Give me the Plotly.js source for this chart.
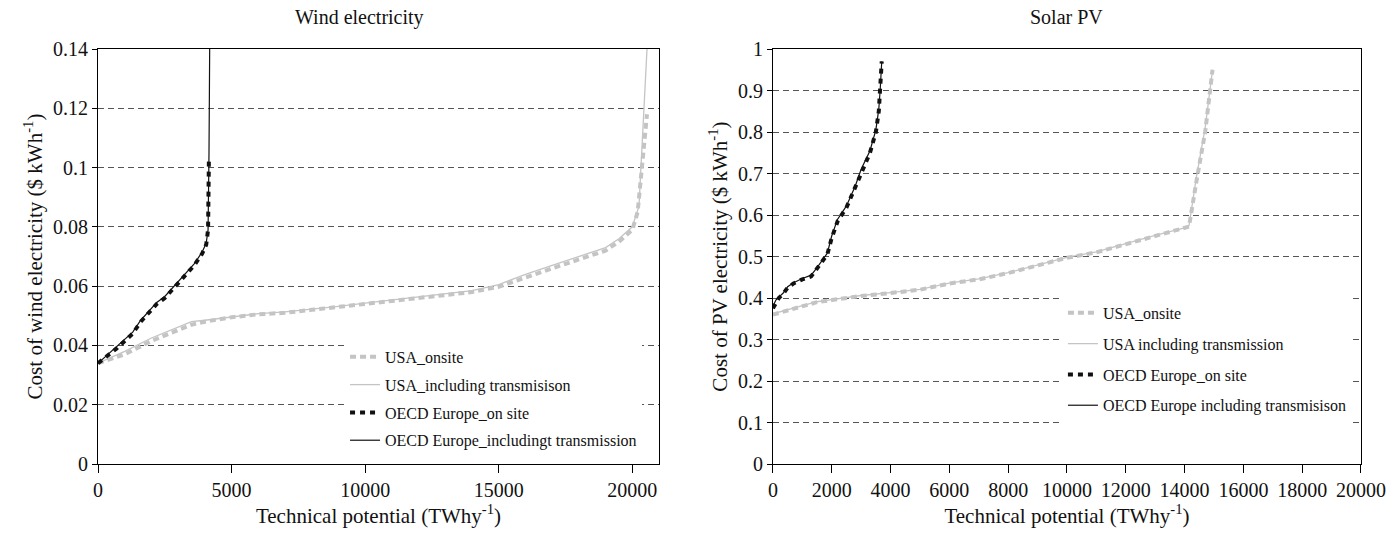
<!DOCTYPE html>
<html>
<head>
<meta charset="utf-8">
<script src="https://cdn.plot.ly/plotly-3.0.1.min.js"></script>
<style>html,body{margin:0;padding:0;background:#fff;}#chart{width:1389px;height:535px;}</style>
</head>
<body>
<div id="chart"></div>
<script>
// ---- Wind electricity (left panel) ----
const windUsaOnsiteX = [0, 500, 1000, 2000, 3000, 3500, 4000, 5000, 6000, 7000, 8000, 9000, 10000, 11000, 12000, 13000, 14000, 15000, 16000, 17000, 18000, 19000, 19500, 20000, 20200, 20300, 20450, 20550];
const windUsaOnsiteY = [0.034, 0.0355, 0.037, 0.0415, 0.045, 0.047, 0.048, 0.0495, 0.0505, 0.051, 0.052, 0.053, 0.054, 0.055, 0.056, 0.057, 0.058, 0.0598, 0.063, 0.066, 0.069, 0.072, 0.075, 0.079, 0.085, 0.095, 0.108, 0.118];
const windUsaTransX = [0, 500, 1000, 2000, 3000, 3500, 4000, 5000, 6000, 7000, 8000, 9000, 10000, 11000, 12000, 13000, 14000, 15000, 16000, 17000, 18000, 19000, 19500, 20000, 20250, 20350, 20450, 20550];
const windUsaTransY = [0.034, 0.036, 0.038, 0.0425, 0.046, 0.048, 0.0485, 0.0497, 0.0507, 0.0513, 0.0522, 0.0532, 0.0543, 0.0553, 0.0563, 0.0573, 0.0585, 0.0605, 0.064, 0.067, 0.070, 0.073, 0.076, 0.080, 0.087, 0.105, 0.125, 0.140];
const windEurOnsiteX = [0, 300, 700, 1000, 1300, 1600, 1900, 2200, 2500, 2700, 3000, 3300, 3600, 3900, 4050, 4120, 4140, 4150];
const windEurOnsiteY = [0.034, 0.036, 0.039, 0.0415, 0.044, 0.048, 0.051, 0.054, 0.056, 0.058, 0.061, 0.064, 0.067, 0.071, 0.074, 0.079, 0.090, 0.102];
const windEurTransX = [0, 300, 700, 1000, 1300, 1600, 1900, 2200, 2500, 2700, 3000, 3300, 3600, 3900, 4050, 4120, 4140, 4155, 4170, 4180];
const windEurTransY = [0.034, 0.0365, 0.0395, 0.042, 0.0445, 0.0485, 0.0515, 0.0545, 0.0565, 0.0585, 0.0615, 0.0645, 0.0675, 0.0715, 0.0745, 0.079, 0.090, 0.105, 0.125, 0.140];

// ---- Solar PV (right panel) ----
const pvUsaOnsiteX = [0, 500, 1000, 1500, 2000, 3000, 4000, 5000, 6000, 7000, 8000, 9000, 10000, 11000, 12000, 13000, 14000, 14150, 14400, 14700, 14950];
const pvUsaOnsiteY = [0.36, 0.37, 0.38, 0.39, 0.395, 0.405, 0.412, 0.42, 0.435, 0.445, 0.46, 0.478, 0.497, 0.51, 0.53, 0.55, 0.568, 0.572, 0.68, 0.80, 0.95];
const pvUsaTransX = [0, 500, 1000, 1500, 2000, 3000, 4000, 5000, 6000, 7000, 8000, 9000, 10000, 11000, 12000, 13000, 14000, 14150, 14400, 14700, 14950];
const pvUsaTransY = [0.362, 0.372, 0.382, 0.391, 0.396, 0.406, 0.413, 0.421, 0.436, 0.446, 0.461, 0.479, 0.498, 0.511, 0.531, 0.551, 0.569, 0.574, 0.69, 0.81, 0.95];
const pvEurOnsiteX = [0, 100, 200, 350, 500, 700, 1000, 1300, 1500, 1700, 1850, 2000, 2200, 2500, 2800, 3000, 3300, 3500, 3600, 3650, 3700];
const pvEurOnsiteY = [0.375, 0.39, 0.40, 0.41, 0.425, 0.435, 0.445, 0.452, 0.47, 0.49, 0.505, 0.545, 0.585, 0.618, 0.665, 0.70, 0.75, 0.80, 0.85, 0.90, 0.97];
const pvEurTransX = [0, 100, 200, 350, 500, 700, 1000, 1300, 1500, 1700, 1850, 2000, 2200, 2500, 2800, 3000, 3300, 3500, 3600, 3650, 3700];
const pvEurTransY = [0.38, 0.395, 0.402, 0.412, 0.427, 0.437, 0.447, 0.455, 0.473, 0.493, 0.508, 0.55, 0.59, 0.622, 0.67, 0.71, 0.755, 0.805, 0.855, 0.905, 0.97];

const windNames = ['USA_onsite', 'USA_including transmisison', 'OECD Europe_on site', 'OECD Europe_includingt transmission'];
const pvNames = ['USA_onsite', 'USA including transmission', 'OECD Europe_on site', 'OECD Europe including transmisison'];

const windXTicks = [0, 5000, 10000, 15000, 20000];
const pvXTicks = [0, 2000, 4000, 6000, 8000, 10000, 12000, 14000, 16000, 18000, 20000];

const FONT = '"Liberation Serif", "Times New Roman", serif';
const GRAY = '#c4c4c4';
const BLACK = '#111111';

const styles = [
  {color: GRAY, width: 4, dash: '6px,4px'},
  {color: GRAY, width: 1.3, dash: 'solid'},
  {color: BLACK, width: 4, dash: '5px,5px'},
  {color: BLACK, width: 1.2, dash: 'solid'}
];

function mk(x, y, name, i, xa, ya, leg, grp) {
  return {
    x: x, y: y, name: name, type: 'scatter', mode: 'lines',
    xaxis: xa, yaxis: ya, legend: leg, legendgroup: grp + i,
    line: Object.assign({}, styles[i])
  };
}

const data = [
  mk(windUsaOnsiteX, windUsaOnsiteY, windNames[0], 0, 'x', 'y', 'legend', 'w'),
  mk(windUsaTransX, windUsaTransY, windNames[1], 1, 'x', 'y', 'legend', 'w'),
  mk(windEurOnsiteX, windEurOnsiteY, windNames[2], 2, 'x', 'y', 'legend', 'w'),
  mk(windEurTransX, windEurTransY, windNames[3], 3, 'x', 'y', 'legend', 'w'),
  mk(pvUsaOnsiteX, pvUsaOnsiteY, pvNames[0], 0, 'x2', 'y2', 'legend2', 'p'),
  mk(pvUsaTransX, pvUsaTransY, pvNames[1], 1, 'x2', 'y2', 'legend2', 'p'),
  mk(pvEurOnsiteX, pvEurOnsiteY, pvNames[2], 2, 'x2', 'y2', 'legend2', 'p'),
  mk(pvEurTransX, pvEurTransY, pvNames[3], 3, 'x2', 'y2', 'legend2', 'p')
];

const tickFont = {family: FONT, size: 20, color: '#111'};
const titleFont = {family: FONT, size: 21, color: '#111'};

function xAxis(domain, range, tickvals, anchor) {
  return {
    domain: domain, range: range, anchor: anchor,
    tickvals: tickvals, ticktext: tickvals.map(String),
    showgrid: false, zeroline: false,
    showline: true, linecolor: '#000', linewidth: 1, mirror: true,
    ticks: 'outside', ticklen: 8, tickcolor: '#000',
    tickfont: tickFont,
    title: {text: 'Technical potential (TWhy<sup>-1</sup>)', font: titleFont, standoff: 0}
  };
}
function yAxis(range, dtick, title, anchor) {
  return {
    range: range, dtick: dtick, tick0: 0, anchor: anchor,
    showgrid: true, gridcolor: '#555', griddash: '6px,4px', gridwidth: 1,
    zeroline: false,
    showline: true, linecolor: '#000', linewidth: 1, mirror: true,
    ticks: 'outside', ticklen: 5, tickcolor: '#000',
    tickfont: tickFont,
    title: {text: title, font: titleFont, standoff: 4}
  };
}

const legendBase = {
  bgcolor: '#ffffff', borderwidth: 0,
  font: {family: FONT, size: 16, color: '#111'},
  xanchor: 'left', yanchor: 'top', traceorder: 'grouped'
};

const layout = {
  width: 1389, height: 535,
  margin: {l: 98, r: 28, t: 49, b: 71},
  paper_bgcolor: '#fff', plot_bgcolor: '#fff',
  showlegend: true,
  xaxis: xAxis([0, 0.4442], [0, 21000], windXTicks, 'y'),
  yaxis: yAxis([0, 0.14], 0.02, 'Cost of wind electricity ($ kWh<sup>-1</sup>)', 'x'),
  xaxis2: xAxis([0.5344, 1], [0, 20000], pvXTicks, 'y2'),
  yaxis2: yAxis([0, 1], 0.1, 'Cost of PV electricity ($ kWh<sup>-1</sup>)', 'x2'),
  legend: Object.assign({}, legendBase, {x: 0.1956, y: 0.299, tracegroupgap: 4}),
  legend2: Object.assign({}, legendBase, {x: 0.764, y: 0.405, tracegroupgap: 7}),
  annotations: [
    {text: 'Wind electricity', xref: 'paper', yref: 'paper', x: 0.2074, y: 1.077, showarrow: false, xanchor: 'center', yanchor: 'middle', font: {family: FONT, size: 20, color: '#111'}},
    {text: 'Solar PV', xref: 'paper', yref: 'paper', x: 0.767, y: 1.077, showarrow: false, xanchor: 'center', yanchor: 'middle', font: {family: FONT, size: 20, color: '#111'}}
  ]
};

Plotly.newPlot('chart', data, layout, {displayModeBar: false, staticPlot: true});
</script>
</body>
</html>
